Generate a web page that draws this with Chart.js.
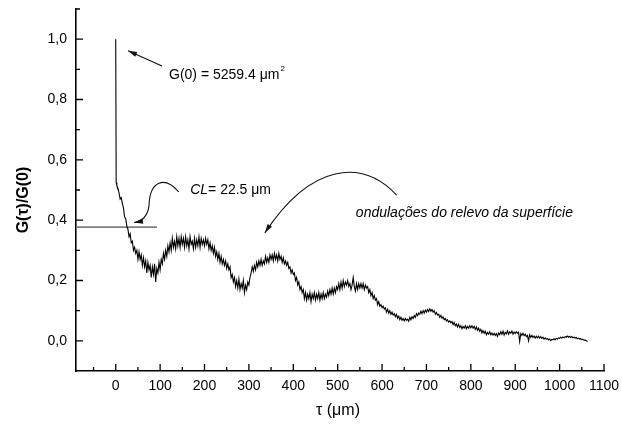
<!DOCTYPE html>
<html>
<head>
<meta charset="utf-8">
<script src="https://cdn.jsdelivr.net/npm/chart.js@4.4.1/dist/chart.umd.min.js"></script>
<style>
  html, body { margin: 0; padding: 0; background: #fff; }
</style>
</head>
<body>
<canvas id="chartG" width="622" height="427"></canvas>
<script>
// tau (um)
const tau = [
  0, 1,
  2.5, 5, 7.5, 10, 12.5, 15, 17.5, 20, 22.5, 25, 27.5, 30, 32.5, 35, 37.5, 40, 42.5, 45, 47.5, 50,
  52.5, 55, 57.5, 60, 62.5, 65, 67.5, 70, 72.5, 75, 77.5, 80, 82.5, 85, 87.5, 90, 92.5, 95, 97.5, 100,
  102.5, 105, 107.5, 110, 112.5, 115, 117.5, 120, 122.5, 125, 127.5, 130, 132.5, 135, 137.5, 140, 142.5, 145, 147.5, 150,
  152.5, 155, 157.5, 160, 162.5, 165, 167.5, 170, 172.5, 175, 177.5, 180, 182.5, 185, 187.5, 190, 192.5, 195, 197.5, 200,
  202.5, 205, 207.5, 210, 212.5, 215, 217.5, 220, 222.5, 225, 227.5, 230, 232.5, 235, 237.5, 240, 242.5, 245, 247.5, 250,
  252.5, 255, 257.5, 260, 262.5, 265, 267.5, 270, 272.5, 275, 277.5, 280, 282.5, 285, 287.5, 290, 292.5, 295, 297.5, 300,
  302.5, 305, 307.5, 310, 312.5, 315, 317.5, 320, 322.5, 325, 327.5, 330, 332.5, 335, 337.5, 340, 342.5, 345, 347.5, 350,
  352.5, 355, 357.5, 360, 362.5, 365, 367.5, 370, 372.5, 375, 377.5, 380, 382.5, 385, 387.5, 390, 392.5, 395, 397.5, 400,
  402.5, 405, 407.5, 410, 412.5, 415, 417.5, 420, 422.5, 425, 427.5, 430, 432.5, 435, 437.5, 440, 442.5, 445, 447.5, 450,
  452.5, 455, 457.5, 460, 462.5, 465, 467.5, 470, 472.5, 475, 477.5, 480, 482.5, 485, 487.5, 490, 492.5, 495, 497.5, 500,
  502.5, 505, 507.5, 510, 512.5, 515, 517.5, 520, 522.5, 525, 527.5, 530, 532.5, 535, 537.5, 540, 542.5, 545, 547.5, 550,
  552.5, 555, 557.5, 560, 562.5, 565, 567.5, 570, 572.5, 575, 577.5, 580, 582.5, 585, 587.5, 590, 592.5, 595, 597.5, 600,
  602.5, 605, 607.5, 610, 612.5, 615, 617.5, 620, 622.5, 625, 627.5, 630, 632.5, 635, 637.5, 640, 642.5, 645, 647.5, 650,
  652.5, 655, 657.5, 660, 662.5, 665, 667.5, 670, 672.5, 675, 677.5, 680, 682.5, 685, 687.5, 690, 692.5, 695, 697.5, 700,
  702.5, 705, 707.5, 710, 712.5, 715, 717.5, 720, 722.5, 725, 727.5, 730, 732.5, 735, 737.5, 740, 742.5, 745, 747.5, 750,
  752.5, 755, 757.5, 760, 762.5, 765, 767.5, 770, 772.5, 775, 777.5, 780, 782.5, 785, 787.5, 790, 792.5, 795, 797.5, 800,
  802.5, 805, 807.5, 810, 812.5, 815, 817.5, 820, 822.5, 825, 827.5, 830, 832.5, 835, 837.5, 840, 842.5, 845, 847.5, 850,
  852.5, 855, 857.5, 860, 862.5, 865, 867.5, 870, 872.5, 875, 877.5, 880, 882.5, 885, 887.5, 890, 892.5, 895, 897.5, 900,
  902.5, 905, 907.5, 910, 912.5, 915, 917.5, 920, 922.5, 925, 927.5, 930, 932.5, 935, 937.5, 940, 942.5, 945, 947.5, 950,
  952.5, 955, 957.5, 960, 962.5, 965, 967.5, 970, 972.5, 975, 977.5, 980, 982.5, 985, 987.5, 990, 992.5, 995, 997.5, 1000,
  1002.5, 1005, 1007.5, 1010, 1012.5, 1015, 1017.5, 1020, 1022.5, 1025, 1027.5, 1030, 1032.5, 1035, 1037.5, 1040,
  1042.5, 1045, 1047.5, 1050, 1052.5, 1055, 1057.5, 1060, 1063
];

// G(tau)/G(0)
const gNorm = [
  1.0, 0.525,
  0.515, 0.505, 0.49, 0.47, 0.475, 0.455, 0.44, 0.41, 0.405, 0.38, 0.37, 0.345, 0.355, 0.325, 0.33, 0.30, 0.31, 0.29, 0.30, 0.27,
  0.295, 0.27, 0.285, 0.25, 0.275, 0.245, 0.265, 0.225, 0.26, 0.235, 0.25, 0.21, 0.245, 0.22, 0.255, 0.195, 0.24, 0.225, 0.26, 0.235,
  0.27, 0.255, 0.29, 0.27, 0.30, 0.28, 0.315, 0.295, 0.325, 0.30, 0.34, 0.31, 0.33, 0.305, 0.345, 0.315, 0.34, 0.31, 0.345, 0.32,
  0.34, 0.31, 0.345, 0.315, 0.335, 0.305, 0.345, 0.32, 0.33, 0.305, 0.34, 0.31, 0.335, 0.315, 0.345, 0.31, 0.34, 0.32, 0.335, 0.315,
  0.34, 0.32, 0.335, 0.305, 0.325, 0.30, 0.315, 0.29, 0.31, 0.28, 0.295, 0.27, 0.29, 0.26, 0.28, 0.255, 0.27, 0.25, 0.265, 0.24,
  0.255, 0.235, 0.245, 0.21, 0.22, 0.195, 0.21, 0.18, 0.2, 0.175, 0.205, 0.17, 0.19, 0.175, 0.2, 0.16, 0.185, 0.17, 0.195, 0.185,
  0.21, 0.225, 0.245, 0.23, 0.25, 0.235, 0.26, 0.245, 0.265, 0.25, 0.27, 0.25, 0.265, 0.255, 0.28, 0.26, 0.275, 0.26, 0.285, 0.27,
  0.285, 0.265, 0.29, 0.27, 0.285, 0.265, 0.29, 0.27, 0.28, 0.26, 0.275, 0.255, 0.265, 0.25, 0.26, 0.24, 0.245, 0.225, 0.235, 0.22,
  0.225, 0.2, 0.21, 0.185, 0.195, 0.17, 0.18, 0.16, 0.17, 0.14, 0.16, 0.135, 0.155, 0.14, 0.16, 0.13, 0.155, 0.14, 0.16, 0.135,
  0.155, 0.14, 0.16, 0.135, 0.155, 0.14, 0.16, 0.14, 0.155, 0.145, 0.165, 0.15, 0.17, 0.155, 0.175, 0.155, 0.175, 0.16, 0.18, 0.17,
  0.19, 0.17, 0.195, 0.175, 0.2, 0.18, 0.195, 0.185, 0.2, 0.18, 0.19, 0.17, 0.185, 0.21, 0.18, 0.165, 0.19, 0.17, 0.19, 0.175,
  0.19, 0.175, 0.19, 0.17, 0.185, 0.175, 0.18, 0.16, 0.17, 0.15, 0.16, 0.14, 0.15, 0.135, 0.14, 0.12, 0.13, 0.115, 0.12, 0.11,
  0.115, 0.105, 0.11, 0.095, 0.105, 0.092, 0.1, 0.088, 0.095, 0.085, 0.09, 0.08, 0.088, 0.075, 0.082, 0.07, 0.078, 0.068, 0.074, 0.066,
  0.074, 0.068, 0.072, 0.065, 0.078, 0.07, 0.08, 0.074, 0.084, 0.078, 0.09, 0.083, 0.092, 0.088, 0.098, 0.09, 0.1, 0.092, 0.102, 0.095,
  0.104, 0.097, 0.106, 0.098, 0.104, 0.095, 0.1, 0.088, 0.094, 0.085, 0.088, 0.078, 0.084, 0.075, 0.079, 0.07, 0.074, 0.066, 0.07, 0.062,
  0.066, 0.06, 0.064, 0.054, 0.061, 0.05, 0.056, 0.046, 0.055, 0.044, 0.05, 0.04, 0.048, 0.042, 0.05, 0.04, 0.048, 0.042, 0.05, 0.043,
  0.05, 0.042, 0.048, 0.038, 0.046, 0.035, 0.042, 0.032, 0.038, 0.026, 0.034, 0.025, 0.032, 0.02, 0.028, 0.022, 0.03, 0.02, 0.026, 0.019,
  0.025, 0.018, 0.024, 0.015, 0.026, 0.02, 0.03, 0.022, 0.032, 0.019, 0.028, 0.023, 0.033, 0.022, 0.03, 0.025, 0.032, 0.022, 0.029, 0.024,
  0.03, 0.025, 0.028, -0.002, 0.024, 0.018, 0.025, 0.017, 0.022, 0.014, 0.018, 0.0, 0.02, 0.012, 0.018, 0.011, 0.016, 0.009, 0.015, 0.01,
  0.015, 0.009, 0.014, 0.008, 0.012, 0.006, 0.01, 0.005, 0.008, 0.003, 0.006, 0.001, 0.005, 0.003, 0.007, 0.004, 0.008, 0.006, 0.01, 0.008,
  0.012, 0.009, 0.013, 0.01, 0.014, 0.012, 0.016, 0.012, 0.015, 0.011, 0.014, 0.01, 0.012, 0.009, 0.011, 0.007,
  0.009, 0.006, 0.007, 0.004, 0.005, 0.002, 0.003, 0.0, -0.002
];

// horizontal CL marker line
const clLevel = 0.377;
const clLineTau = [-89.5, 93];

const xTicks = [0, 100, 200, 300, 400, 500, 600, 700, 800, 900, 1000, 1100];
const xMinor = [-50, 50, 150, 250, 350, 450, 550, 650, 750, 850, 950, 1050];
const yTicks = [0, 0.2, 0.4, 0.6, 0.8, 1.0];
const yMinor = [0.1, 0.3, 0.5, 0.7, 0.9, 1.1];

const FONT = 'Arial, "Liberation Sans", sans-serif';

function arrowHead(ctx, fx, fy, tx, ty) {
  const a = Math.atan2(ty - fy, tx - fx);
  const len = 9, half = 2.6;
  ctx.beginPath();
  ctx.moveTo(tx, ty);
  ctx.lineTo(tx - len * Math.cos(a) + half * Math.sin(a), ty - len * Math.sin(a) - half * Math.cos(a));
  ctx.lineTo(tx - len * Math.cos(a) - half * Math.sin(a), ty - len * Math.sin(a) + half * Math.cos(a));
  ctx.closePath();
  ctx.fill();
}

// no label overhang padding, the frame is placed by layout.padding
function noOverhang(s) {
  s.paddingTop = 0;
  s.paddingBottom = 0;
  s.paddingLeft = 0;
  s.paddingRight = 0;
}

// ticks (inward), axis titles and annotations
const decor = {
  id: 'decor',
  afterDraw(chart) {
    const { ctx, chartArea: a } = chart;
    const x = chart.scales.x, y = chart.scales.y;
    const P = (t, g) => [x.getPixelForValue(t), y.getPixelForValue(g)];
    ctx.save();

    // tick marks
    ctx.strokeStyle = '#000';
    ctx.lineWidth = 1.3;
    ctx.beginPath();
    xTicks.forEach(v => { const px = x.getPixelForValue(v); ctx.moveTo(px, a.bottom); ctx.lineTo(px, a.bottom - 7); });
    xMinor.forEach(v => { const px = x.getPixelForValue(v); ctx.moveTo(px, a.bottom); ctx.lineTo(px, a.bottom - 4); });
    yTicks.forEach(v => { const py = y.getPixelForValue(v); ctx.moveTo(a.left, py); ctx.lineTo(a.left + 7, py); });
    yMinor.forEach(v => { const py = y.getPixelForValue(v); ctx.moveTo(a.left, py); ctx.lineTo(a.left + 4, py); });
    ctx.stroke();

    // axis titles
    ctx.fillStyle = '#000';
    ctx.textAlign = 'center';
    ctx.textBaseline = 'middle';
    ctx.font = '16px ' + FONT;
    ctx.fillText('τ (μm)', 338, 411);
    ctx.save();
    ctx.translate(24, 200);
    ctx.rotate(-Math.PI / 2);
    ctx.font = 'bold 16px ' + FONT;
    ctx.fillText('G(τ)/G(0)', 0, 0);
    ctx.restore();

    // arrows
    ctx.strokeStyle = '#111';
    ctx.fillStyle = '#111';
    ctx.lineWidth = 1.1;

    // G(0) arrow
    const t0 = P(104.2, 0.911), h0 = P(27.7, 0.962);
    ctx.beginPath(); ctx.moveTo(...t0); ctx.lineTo(...h0); ctx.stroke();
    arrowHead(ctx, ...t0, ...h0);

    // CL arrow
    const c = [P(141.8, 0.494), P(111, 0.546), P(77.2, 0.533), P(75, 0.45),
               P(72.7, 0.417), P(61.5, 0.397), P(41.2, 0.392)];
    ctx.beginPath();
    ctx.moveTo(...c[0]);
    ctx.bezierCurveTo(...c[1], ...c[2], ...c[3]);
    ctx.bezierCurveTo(...c[4], ...c[5], ...c[6]);
    ctx.stroke();
    arrowHead(ctx, ...c[5], ...c[6]);

    // ondulacoes arrow
    const b = [P(633, 0.483), P(555, 0.605), P(440, 0.59), P(336, 0.358)];
    ctx.beginPath();
    ctx.moveTo(...b[0]);
    ctx.bezierCurveTo(...b[1], ...b[2], ...b[3]);
    ctx.stroke();
    arrowHead(ctx, ...b[2], ...b[3]);

    // labels
    ctx.textAlign = 'left';
    ctx.textBaseline = 'alphabetic';
    ctx.fillStyle = '#000';
    let [lx, ly] = P(120, 0.868);
    ctx.font = '14px ' + FONT;
    const s1 = 'G(0) = 5259.4 μm';
    ctx.fillText(s1, lx, ly);
    const w1 = ctx.measureText(s1).width;
    ctx.font = '8px ' + FONT;
    ctx.fillText('2', lx + w1 + 1, ly - 8);

    [lx, ly] = P(167.7, 0.488);
    ctx.font = 'italic 14px ' + FONT;
    ctx.fillText('CL', lx, ly);
    const w2 = ctx.measureText('CL').width;
    ctx.font = '14px ' + FONT;
    ctx.fillText('= 22.5 μm', lx + w2, ly);

    [lx, ly] = P(541, 0.411);
    ctx.font = 'italic 14px ' + FONT;
    ctx.fillText('ondulações do relevo da superfície', lx, ly);

    ctx.restore();
  }
};

const ctx = document.getElementById('chartG').getContext('2d');
new Chart(ctx, {
  type: 'scatter',
  data: {
    datasets: [
      {
        label: 'G(τ)/G(0)',
        data: tau.map((t, i) => ({ x: t, y: gNorm[i] })),
        showLine: true,
        borderColor: '#000',
        borderWidth: 1.1,
        pointRadius: 0,
        tension: 0
      },
      {
        label: 'CL',
        data: clLineTau.map(t => ({ x: t, y: clLevel })),
        showLine: true,
        borderColor: '#808080',
        borderWidth: 1.8,
        pointRadius: 0
      }
    ]
  },
  options: {
    responsive: false,
    animation: false,
    layout: { autoPadding: false, padding: { top: 9, right: 18, left: 0, bottom: 0 } },
    plugins: { legend: { display: false }, tooltip: { enabled: false } },
    scales: {
      x: {
        type: 'linear',
        min: -89.5,
        max: 1100,
        afterBuildTicks: s => { s.ticks = xTicks.map(v => ({ value: v })); },
        afterFit: s => { s.height = 56; noOverhang(s); },
        grid: { display: false, drawTicks: false },
        border: { display: true, color: '#000', width: 1.6 },
        ticks: {
          color: '#000',
          font: { family: FONT, size: 14 },
          padding: 7,
          maxRotation: 0,
          autoSkip: false,
          callback: v => String(v)
        }
      },
      y: {
        min: -0.1,
        max: 1.1,
        afterBuildTicks: s => { s.ticks = yTicks.map(v => ({ value: v })); },
        afterFit: s => { s.width = 76; noOverhang(s); },
        grid: { display: false, drawTicks: false },
        border: { display: true, color: '#000', width: 1.6 },
        ticks: {
          color: '#000',
          font: { family: FONT, size: 14 },
          padding: 9,
          autoSkip: false,
          callback: v => v.toFixed(1).replace('.', ',')
        }
      }
    }
  },
  plugins: [decor]
});
</script>
</body>
</html>
